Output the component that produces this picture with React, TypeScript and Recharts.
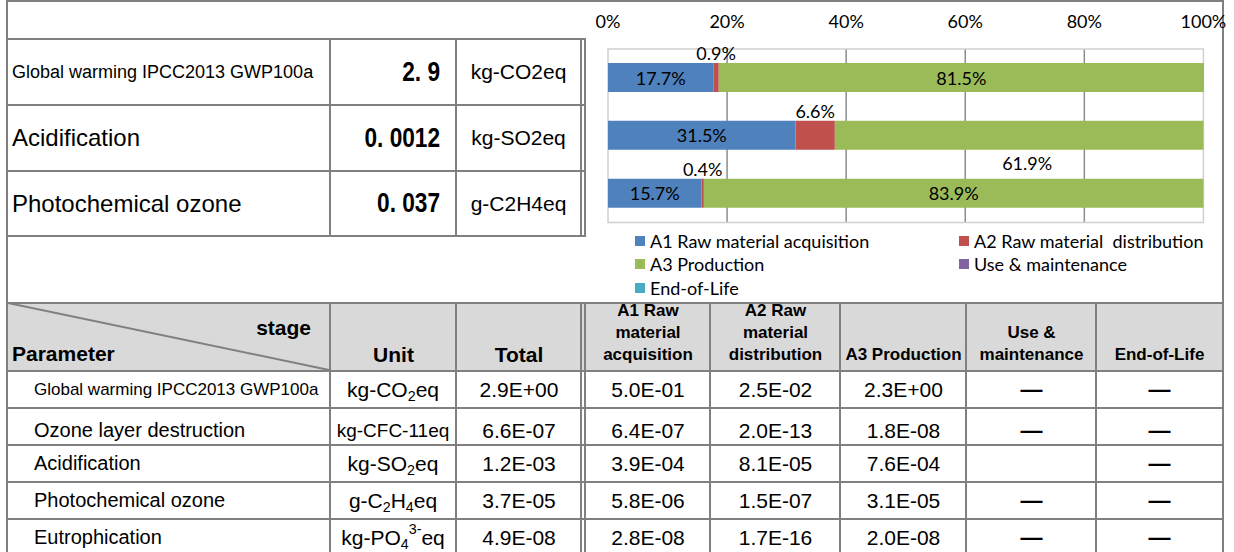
import React from 'react';
import { BarChart, Bar, XAxis, YAxis, CartesianGrid, Legend, LabelList, ReferenceArea } from 'recharts';

// ---- chart data (share of each life-cycle stage, %) ----
const impactNames = ['Global warming IPCC2013 GWP100a', 'Acidification', 'Photochemical ozone'];
const a1Share = [17.7, 31.5, 15.7];
const a2Share = [0.9, 6.6, 0.4];
const a3Share = [81.5, 61.9, 83.9];
const useShare = [0, 0, 0];
const eolShare = [0, 0, 0];
const a3LabelBelow = [false, true, false];
const pctTicks = [0, 20, 40, 60, 80, 100];

const stageNames = ['A1 Raw material acquisition', 'A2 Raw material  distribution', 'A3 Production', 'Use & maintenance', 'End-of-Life'];
const stageColors = ['#4f81bd', '#c0504d', '#9bbb59', '#8064a2', '#4bacc6'];

// ---- summary table ----
const summaryTotals = ['2. 9', '0. 0012', '0. 037'];
const summaryUnits = ['kg-CO2eq', 'kg-SO2eq', 'g-C2H4eq'];

// ---- detail table ----
const detailParams = ['Global warming IPCC2013 GWP100a', 'Ozone layer destruction', 'Acidification', 'Photochemical ozone', 'Eutrophication'];
const detailUnits: React.ReactNode[] = [
  <>kg-CO<sub className="s">2</sub>eq</>,
  'kg-CFC-11eq',
  <>kg-SO<sub className="s">2</sub>eq</>,
  <>g-C<sub className="s">2</sub>H<sub className="s">4</sub>eq</>,
  <>kg-PO<sub className="s">4</sub><sup className="s">3-</sup>eq</>,
];
const detailTotals = ['2.9E+00', '6.6E-07', '1.2E-03', '3.7E-05', '4.9E-08'];
const detailA1 = ['5.0E-01', '6.4E-07', '3.9E-04', '5.8E-06', '2.8E-08'];
const detailA2 = ['2.5E-02', '2.0E-13', '8.1E-05', '1.5E-07', '1.7E-16'];
const detailA3 = ['2.3E+00', '1.8E-08', '7.6E-04', '3.1E-05', '2.0E-08'];
const detailUse = ['—', '—', '', '—', '—'];
const detailEol = ['—', '—', '—', '—', '—'];
const stageHeaders = [['A1 Raw', 'material', 'acquisition'], ['A2 Raw', 'material', 'distribution'], ['A3 Production'], ['Use &', 'maintenance'], ['End-of-Life']];

const chartData = impactNames.map((name, i) => ({
  name,
  a1: a1Share[i],
  a2: a2Share[i],
  a3: a3Share[i],
  use: useShare[i],
  eol: eolShare[i],
}));

const GRAY = '#808080';
const tableFont = '"Liberation Sans", Arial, sans-serif';
const chartFont = 'Lato, "Noto Sans", sans-serif';
const pct = (v: number) => `${v}%`;

const HLine = ({ x1, x2, y, w = 2 }: { x1: number; x2: number; y: number; w?: number }) => (
  <div style={{ position: 'absolute', left: x1, top: y, width: x2 - x1, height: w, background: GRAY }} />
);
const VLine = ({ x, y1, y2, w = 2 }: { x: number; y1: number; y2: number; w?: number }) => (
  <div style={{ position: 'absolute', left: x, top: y1, width: w, height: y2 - y1, background: GRAY }} />
);

type CellProps = {
  x: number; y: number; w: number; h: number;
  align?: 'left' | 'center' | 'right';
  valign?: 'center' | 'bottom';
  pad?: number;
  style?: React.CSSProperties;
  children?: React.ReactNode;
};
const Cell = ({ x, y, w, h, align = 'center', valign = 'center', pad = 0, style, children }: CellProps) => (
  <div
    style={{
      position: 'absolute', left: x, top: y, width: w, height: h,
      display: 'flex', flexDirection: 'column',
      justifyContent: valign === 'bottom' ? 'flex-end' : 'center',
      alignItems: align === 'left' ? 'flex-start' : align === 'right' ? 'flex-end' : 'center',
      paddingLeft: align === 'left' ? pad : 0,
      paddingRight: align === 'right' ? pad : 0,
      boxSizing: 'border-box', whiteSpace: 'nowrap', color: '#000',
      ...style,
    }}
  >
    <div style={{ textAlign: align }}>{children}</div>
  </div>
);

const CenterLabel = (p: any) => (
  <text x={p.x + p.width / 2} y={p.y + p.height / 2} textAnchor="middle" dominantBaseline="central"
    fontFamily={chartFont} fontSize={18} fill="#000">{pct(p.value)}</text>
);
const AboveLabel = (p: any) => (
  <text x={p.x + p.width / 2} y={p.y - 10} textAnchor="middle" dominantBaseline="central"
    fontFamily={chartFont} fontSize={18} fill="#000">{pct(p.value)}</text>
);
const A3Label = (p: any) => {
  const below = a3LabelBelow[p.index];
  return (
    <text x={p.x + p.width / 2 + (below ? 8 : 0)} y={below ? p.y + p.height + 13 : p.y + p.height / 2}
      textAnchor="middle" dominantBaseline="central" fontFamily={chartFont} fontSize={18} fill="#000">
      {pct(p.value)}
    </text>
  );
};

const renderLegend = (props: any) => {
  const items = [...(props.payload || [])].sort(
    (a: any, b: any) => stageNames.indexOf(a.value) - stageNames.indexOf(b.value),
  );
  return (
    <div style={{ display: 'grid', gridTemplateColumns: '324px 262px', fontFamily: chartFont, fontSize: 18, color: '#000' }}>
      {items.map((e: any) => (
        <div key={e.value} style={{ display: 'flex', alignItems: 'center', height: 23.5 }}>
          <span style={{ width: 10, height: 10, background: e.color, marginRight: 5, flex: 'none' }} />
          <span style={{ whiteSpace: 'pre', lineHeight: '20px' }}>{e.value}</span>
        </div>
      ))}
    </div>
  );
};

// row / column edges of both tables
const topRows = [38, 104, 170, 235];
const botRows = [302, 370, 407, 444, 481, 518, 555];
const rowShift = [0, 4, 0, 0, 0];
const unitX = [331, 456];
const totalX = [457, 581];
const stageX = [[586, 710], [711, 840], [841, 966], [967, 1096], [1097, 1222]];

export default function App() {
  const rowCount = detailParams.length;
  const stageCols = [detailA1, detailA2, detailA3, detailUse, detailEol];
  return (
    <div style={{ position: 'absolute', left: 0, top: 0, width: 1234, height: 552, background: '#fff', overflow: 'hidden', fontFamily: tableFont }}>
      <style>{`.s{font-size:0.68em;line-height:0;} sub.s{vertical-align:-0.3em;} sup.s{vertical-align:0.75em;}`}</style>

      {/* header background */}
      <div style={{ position: 'absolute', left: 8, top: 302, width: 1214, height: 68, background: '#d9d9d9' }} />

      {/* outer frame */}
      <HLine x1={6} x2={1224} y={0} />
      <VLine x={6} y1={0} y2={552} />
      <VLine x={1222} y1={0} y2={552} />

      {/* summary table lines */}
      {topRows.map((y) => <HLine key={'t' + y} x1={6} x2={586} y={y} />)}
      <VLine x={329} y1={38} y2={237} />
      <VLine x={455} y1={38} y2={237} />
      <VLine x={580} y1={38} y2={237} />
      <VLine x={584} y1={38} y2={237} />

      {/* summary table text */}
      {impactNames.map((n, i) => {
        const y = topRows[i] + 2;
        const h = topRows[i + 1] - topRows[i] - 2;
        return (
          <React.Fragment key={'s' + i}>
            <Cell x={8} y={y} w={321} h={h} align="left" pad={4} style={{ fontSize: i === 0 ? 18 : 24 }}>{n}</Cell>
            <Cell x={331} y={y} w={124} h={h} align="right" pad={15} style={{ fontSize: 27, fontWeight: 700 }}>
              <span style={{ display: 'inline-block', transform: 'scaleX(0.84)', transformOrigin: 'right center' }}>
                {summaryTotals[i]}
              </span>
            </Cell>
            <Cell x={457} y={y} w={123} h={h} style={{ fontSize: 21 }}>{summaryUnits[i]}</Cell>
          </React.Fragment>
        );
      })}

      {/* detail table lines */}
      {botRows.slice(0, -1).map((y) => <HLine key={'b' + y} x1={6} x2={1224} y={y} />)}
      {[329, 455, 580, 584, 709, 839, 965, 1095].map((x) => <VLine key={'v' + x} x={x} y1={302} y2={552} />)}
      <svg style={{ position: 'absolute', left: 8, top: 303 }} width={322} height={68}>
        <line x1={0} y1={0} x2={321} y2={67} stroke={GRAY} strokeWidth={2} />
      </svg>

      {/* detail header */}
      <Cell x={8} y={314} w={321} h={28} align="right" pad={18} style={{ fontSize: 21, fontWeight: 700 }}>stage</Cell>
      <Cell x={8} y={340} w={321} h={28} align="left" pad={4} style={{ fontSize: 21, fontWeight: 700 }}>Parameter</Cell>
      <Cell x={unitX[0]} y={304} w={unitX[1] - unitX[0]} h={66} valign="bottom" style={{ fontSize: 21, fontWeight: 700, paddingBottom: 3 }}>Unit</Cell>
      <Cell x={totalX[0]} y={304} w={totalX[1] - totalX[0]} h={66} valign="bottom" style={{ fontSize: 21, fontWeight: 700, paddingBottom: 3 }}>Total</Cell>
      {stageHeaders.map((lines, j) => (
        <Cell key={'h' + j} x={stageX[j][0]} y={300} w={stageX[j][1] - stageX[j][0]} h={70} valign="bottom"
          style={{ fontSize: 17, fontWeight: 700, lineHeight: '22px', paddingBottom: 4 }}>
          {lines.map((l) => <div key={l}>{l}</div>)}
        </Cell>
      ))}

      {/* detail body */}
      {Array.from({ length: rowCount }).map((_, i) => {
        const y = botRows[i + 1] + 2 + rowShift[i];
        const h = botRows[i + 2] - botRows[i + 1] - 2;
        return (
          <React.Fragment key={'r' + i}>
            <Cell x={8} y={y} w={321} h={h} align="left" pad={26} style={{ fontSize: i === 0 ? 17 : 20 }}>{detailParams[i]}</Cell>
            <Cell x={unitX[0]} y={y} w={unitX[1] - unitX[0] - 1} h={h} style={{ fontSize: i === 1 ? 19 : 21 }}>{detailUnits[i]}</Cell>
            <Cell x={totalX[0]} y={y} w={totalX[1] - totalX[0]} h={h} style={{ fontSize: 21 }}>{detailTotals[i]}</Cell>
            {stageCols.map((col, j) => (
              <Cell key={'c' + j} x={stageX[j][0]} y={y} w={stageX[j][1] - stageX[j][0]} h={h}
                style={col[i] === '—' ? { fontSize: 22, fontWeight: 700 } : { fontSize: 21 }}>{col[i]}</Cell>
            ))}
          </React.Fragment>
        );
      })}

      {/* stacked share chart */}
      <div style={{ position: 'absolute', left: 590, top: 0 }}>
        <BarChart
          width={645}
          height={300}
          data={chartData}
          layout="vertical"
          barSize={29}
          margin={{ top: 19, right: 31, bottom: 7, left: 18 }}
          style={{ overflow: 'visible' }}
        >
          <CartesianGrid horizontal={false} stroke="#8c8c8c" strokeWidth={1.5} verticalValues={pctTicks.slice(1, -1)} />
          <XAxis
            type="number"
            orientation="top"
            domain={[0, 100]}
            ticks={pctTicks}
            tickFormatter={pct}
            axisLine={false}
            tickLine={false}
            tickSize={0}
            tickMargin={21}
            height={30}
            interval={0}
            tick={{ fill: '#000', fontSize: 18, fontFamily: chartFont }}
          />
          <YAxis type="category" dataKey="name" hide />
          <ReferenceArea x1={0} x2={100} fill="none" stroke="#d0d0d0" strokeWidth={1.5} />
          <Bar dataKey="a1" name={stageNames[0]} stackId="s" fill={stageColors[0]} isAnimationActive={false}>
            <LabelList dataKey="a1" content={CenterLabel} />
          </Bar>
          <Bar dataKey="a2" name={stageNames[1]} stackId="s" fill={stageColors[1]} isAnimationActive={false}>
            <LabelList dataKey="a2" content={AboveLabel} />
          </Bar>
          <Bar dataKey="a3" name={stageNames[2]} stackId="s" fill={stageColors[2]} isAnimationActive={false}>
            <LabelList dataKey="a3" content={A3Label} />
          </Bar>
          <Bar dataKey="use" name={stageNames[3]} stackId="s" fill={stageColors[3]} isAnimationActive={false} />
          <Bar dataKey="eol" name={stageNames[4]} stackId="s" fill={stageColors[4]} isAnimationActive={false} />
          <Legend
            content={renderLegend}
            verticalAlign="bottom"
            wrapperStyle={{ position: 'absolute', left: 45, top: 229, width: 588, height: 70.5 }}
          />
        </BarChart>
      </div>
    </div>
  );
}
